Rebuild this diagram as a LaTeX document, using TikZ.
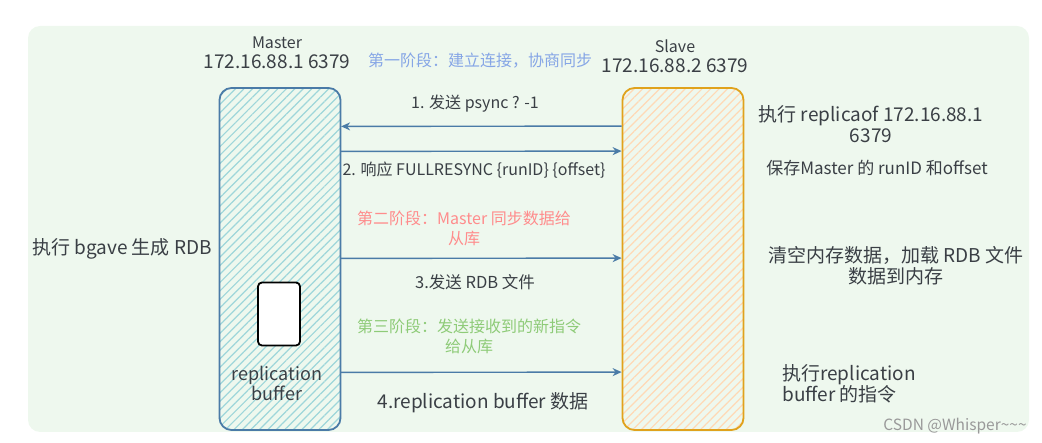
\documentclass[tikz,border=0pt]{standalone}
\usepackage{fontspec}
\setmainfont{Noto Sans CJK SC}
\usetikzlibrary{positioning,calc,arrows.meta,patterns.meta}
\definecolor{panel}{HTML}{EEF8EE}
\definecolor{mline}{HTML}{4A7BA7}
\definecolor{mhatch}{HTML}{9ED6DA}
\definecolor{sline}{HTML}{E0A21C}
\definecolor{shatch}{HTML}{FFD9B5}
\definecolor{txt}{HTML}{3A3F45}
\definecolor{phase1}{HTML}{86A6E6}
\definecolor{phase2}{HTML}{FF8C8C}
\definecolor{phase3}{HTML}{8ECB78}

\begin{document}
\begin{tikzpicture}[x=1pt, y=-1pt,
  server/.style = {draw, line width=1.8pt, rounded corners=12pt,
    minimum width=121pt, minimum height=342pt},
  arr/.style = {mline, line width=1.4pt, -{Stealth[length=9pt,width=8pt]}},
  lbl/.style = {text=txt, font=\fontsize{16}{20}\selectfont, align=center},
  big/.style = {text=txt, font=\fontsize{19}{21}\selectfont, align=center},
  ip/.style  = {text=txt, font=\fontsize{19}{22}\selectfont}
  ]
  \useasboundingbox (0,0) rectangle (1042,443);
  \fill[panel, rounded corners=12pt] (28,26) rectangle (1029,432);

  % the two servers
  \node (master) [server, draw=mline,
    preaction={fill=panel},
    pattern={Lines[angle=45,distance=6pt,line width=1.2pt]}, pattern color=mhatch]
    at (280,259) {};
  \node (slave) [server, draw=sline,
    preaction={fill=panel},
    pattern={Lines[angle=45,distance=6pt,line width=1.2pt]}, pattern color=shatch]
    at (683,259) {};
  \node (buf) [draw=black, fill=white, line width=1.8pt, rounded corners=4pt,
    minimum width=42pt, minimum height=63pt] at (279,314) {};
  \node (buftext) [big, font=\fontsize{18}{20}\selectfont] at (277,383)
    {replication\\buffer};

  \node (mname) [lbl] at (277,43) {Master};
  \node (mip) [ip] at (277,62) {172.16.88.1 6379};
  \node (sname) [lbl] at (675,46) {Slave};
  \node (sip) [ip] at (675,66) {172.16.88.2 6379};

  % messages
  \draw[arr] ([yshift=-39pt]slave.north west) -- ([yshift=-39pt]master.north east);
  \draw[arr] ([yshift=-64pt]master.north east) -- ([yshift=-64pt]slave.north west);
  \draw[arr] ([yshift=-171pt]master.north east) -- ([yshift=-171pt]slave.north west);
  \draw[arr] ([yshift=-285pt]master.north east) -- ([yshift=-285pt]slave.north west);

  \node (p1) [lbl, text=phase1] at (480,61) {第一阶段：建立连接，协商同步};
  \node (m1) [lbl] at (475,104) {1. 发送 psync ? -1};
  \node (m2) [lbl] at (474,170) {2. 响应 FULLRESYNC \{runID\} \{offset\}};
  \node (p2) [lbl, text=phase2] at (464,228)
    {第二阶段：Master 同步数据给\\从库};
  \node (m3) [lbl, font=\fontsize{16.5}{20}\selectfont] at (475,282) {3.发送 RDB 文件};
  \node (p3) [lbl, text=phase3] at (469,336)
    {第三阶段：发送接收到的新指令\\给从库};
  \node (m4) [big] at (483,403) {4.replication buffer 数据};

  % side notes
  \node (bgsave) [big] at (122,249) {执行 bgave 生成 RDB};
  \node (replof) [big] at (871,124) {执行 replicaof 172.16.88.1\\6379};
  \node (saveid) [lbl, font=\fontsize{17}{20}\selectfont] at (877,168)
    {保存Master 的 runID 和offset};
  \node (load) [big] at (896,266) {清空内存数据，加载 RDB 文件\\数据到内存};
  \node (exec) [big, align=left] at (849,384) {执行replication\\buffer 的指令};
  \node (mark) [text=gray!80, font=\fontsize{15.5}{17}\selectfont] at (955,426)
    {CSDN @Whisper\textasciitilde\textasciitilde\textasciitilde};
\end{tikzpicture}
\end{document}
